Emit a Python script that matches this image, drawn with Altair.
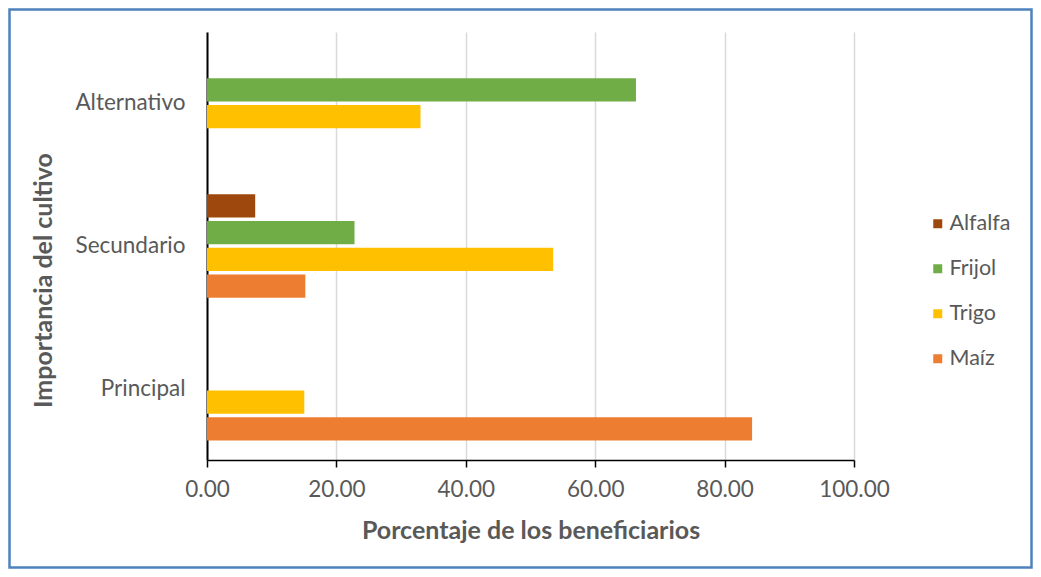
import altair as alt
import pandas as pd

categories = ["Alternativo", "Secundario", "Principal"]
crops = ["Alfalfa", "Frijol", "Trigo", "Maíz"]
alfalfa = [None, 7.45, None]
frijol = [66.3, 22.8, None]
trigo = [33.0, 53.5, 15.04]
maiz = [None, 15.2, 84.25]
colors = ["#9E480E", "#70AD47", "#FFC000", "#ED7D31"]
x_ticks = [0, 20, 40, 60, 80, 100]

rows = []
for crop, vals in zip(crops, [alfalfa, frijol, trigo, maiz]):
    for cat, v in zip(categories, vals):
        if v is not None:
            rows.append({"importancia": cat, "cultivo": crop, "valor": v})
df = pd.DataFrame(rows)

W, H = 647, 428
PL, PT, PR, PB = 199, 24, 179, 109
FONT = "Lato"
TXT = "#595959"

bars = alt.Chart(df).mark_bar().encode(
    x=alt.X(
        "valor:Q",
        scale=alt.Scale(domain=[0, 100], nice=False),
        axis=alt.Axis(
            values=x_ticks, format=".2f", title="Porcentaje de los beneficiarios",
            grid=True, gridColor="#d9d9d9", gridWidth=1.5,
            domainColor="black", domainWidth=1.5,
            tickColor="black", tickWidth=1.5, tickSize=7,
            labelFont=FONT, labelFontSize=22.5, labelColor=TXT, labelPadding=11,
            labelFlush=False,
            titleFont=FONT, titleFontSize=25, titleFontWeight="bold", titleColor=TXT,
            titleY=70, titleBaseline="middle",
        ),
    ),
    y=alt.Y(
        "importancia:N",
        sort=categories,
        scale=alt.Scale(domain=categories, paddingInner=0.274, paddingOuter=0.137),
        axis=alt.Axis(
            title="Importancia del cultivo", ticks=False,
            domainColor="black", domainWidth=2,
            labelFont=FONT, labelFontSize=22.5, labelColor=TXT, labelPadding=22,
            titleFont=FONT, titleFontSize=25, titleFontWeight="bold", titleColor=TXT,
            titleX=-164, titleY=248, titleAlign="center", titleBaseline="middle",
        ),
    ),
    yOffset=alt.YOffset(
        "cultivo:N", sort=crops,
        scale=alt.Scale(domain=crops, paddingInner=0.13, paddingOuter=0),
    ),
    color=alt.Color(
        "cultivo:N",
        scale=alt.Scale(domain=crops, range=colors),
        legend=alt.Legend(
            title=None, orient="none", legendX=720, legendY=181,
            symbolType="square", symbolSize=81, symbolStrokeWidth=0,
            labelFont=FONT, labelFontSize=21.5, labelColor=TXT, labelOffset=1,
            rowPadding=22,
        ),
    ),
)

border = alt.Chart(alt.Data(values=[{"b": 1}])).mark_rect(
    fill="transparent", stroke="#4F81BD", strokeWidth=2.5
).encode(
    x=alt.value(-PL + 1.5), x2=alt.value(W + PR - 1.5),
    y=alt.value(-PT + 1.5), y2=alt.value(H + PB - 1.5),
)

chart = alt.layer(bars, border).properties(
    width=W, height=H,
    padding={"left": PL, "top": PT, "right": PR, "bottom": PB},
    autosize=alt.AutoSizeParams(type="none"),
    background="white",
).configure_view(stroke="transparent")

chart.save("out.html", embed_options={"renderer": "svg", "actions": False})
